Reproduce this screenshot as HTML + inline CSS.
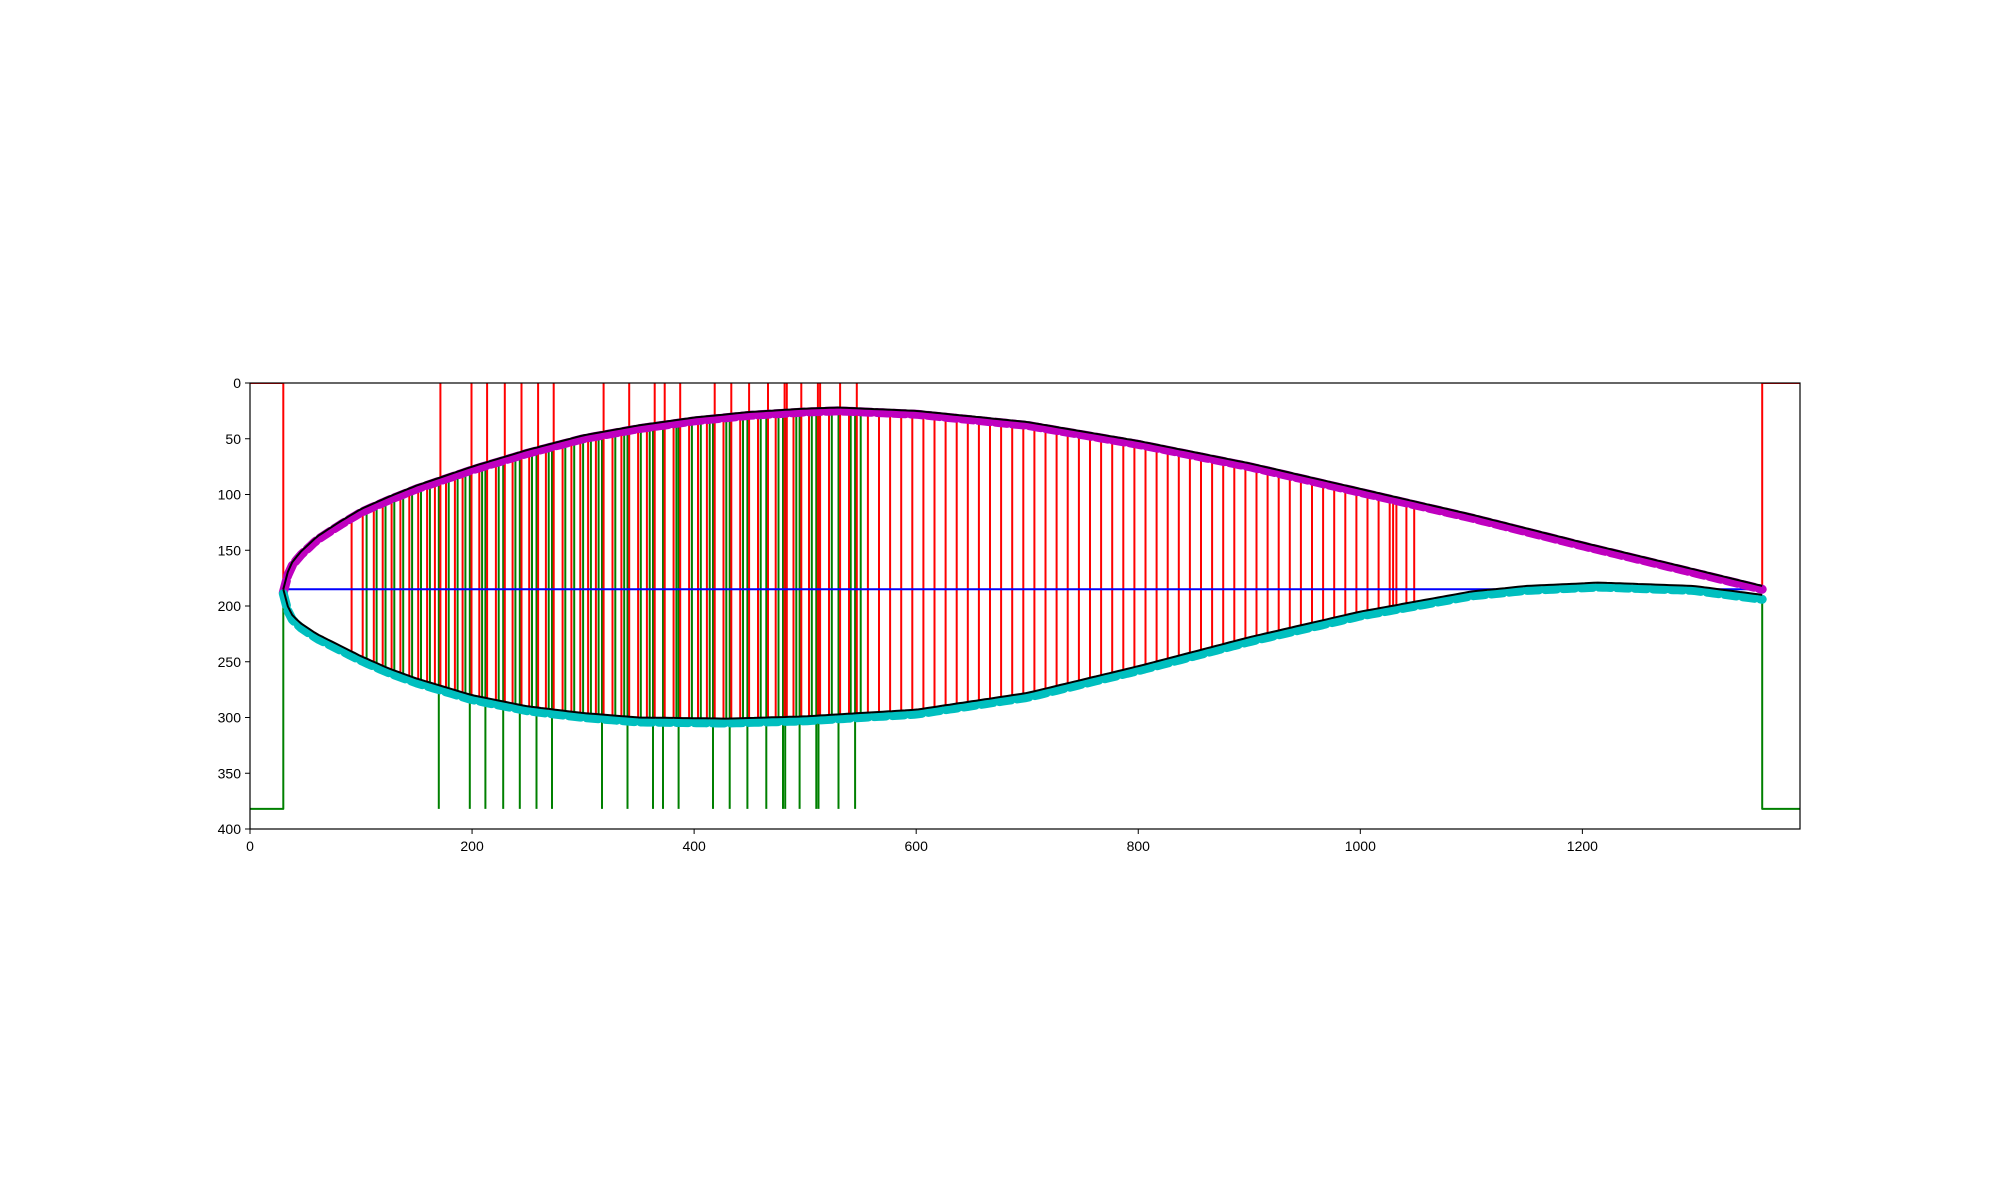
<!DOCTYPE html>
<html><head><meta charset="utf-8"><style>
html,body{margin:0;padding:0;background:#fff;}
svg{display:block;font-family:"Liberation Sans","DejaVu Sans",sans-serif;}
</style></head><body>
<svg id="chart" width="2000" height="1200"></svg>
<script>
const upperX=[30,33,37,45,60,80,100,125,150,200,250,300,350,400,450,500,530,600,700,800,900,1000,1100,1200,1300,1362];
const upperY=[185,172,162,152,138,125,113,102,92,75,60,47,38,31,26,23,22,25,35,52,72,95,118,143,167,182];
const lowerX=[30,33,37,45,60,80,100,125,150,200,250,300,350,430,500,600,700,800,900,1000,1100,1150,1215,1300,1362];
const lowerY=[185,198,207,215,225,235,245,256,265,280,290,296,300,301,299,293,278,254,228,205,187,182,179,182,190];
const camberY=185;
const spikeX=[170,198,212,228,243,258,272,317,340,363,372,386,417,432,448,465,480,482,495,510,512,530,545];
const redX=[90,100,110,118,126,134,142,150,158,165,175,183,190,205,220,235,250,265,280,288,296,303,310,325,333,348,356,380,394,402,410,425,440,456,472,488,502,520,538,555,565,575,585,595,605,615,625,635,645,655,665,675,685,695,705,715,725,735,745,755,765,775,785,795,805,815,825,835,845,855,865,875,885,895,905,915,925,935,945,955,965,975,985,995,1005,1015,1025,1028,1031,1040,1047];
const greenX=[105,114,122,130,138,146,154,162,179,187,194,209,224,239,254,269,284,292,300,307,314,329,337,352,360,384,398,406,414,429,444,460,476,492,506,524,541,550];
const xTicks=[0,200,400,600,800,1000,1200];
const yTicks=[0,50,100,150,200,250,300,350,400];

const L=250,R=1800,T=383,B=829,XMAX=1396,YMAX=400;
const sx=v=>L+v/XMAX*(R-L), sy=v=>T+v/YMAX*(B-T);
const NS='http://www.w3.org/2000/svg', svg=document.getElementById('chart');
function interp(xs,ys,x){for(let i=0;i<xs.length-1;i++){if(x>=xs[i]&&x<=xs[i+1]){const t=(x-xs[i])/(xs[i+1]-xs[i]);return ys[i]+t*(ys[i+1]-ys[i]);}}return ys[ys.length-1];}
function mk(tag,attrs,parent){const e=document.createElementNS(NS,tag);for(const k in attrs)e.setAttribute(k,attrs[k]);(parent||svg).appendChild(e);return e;}
function poly(pts,stroke,w,name,extra){const e=mk('polyline',Object.assign({points:pts.map(p=>sx(p[0]).toFixed(1)+','+sy(p[1]).toFixed(1)).join(' '),fill:'none',stroke:stroke,'stroke-width':w,'stroke-linejoin':'round'},extra||{}));


return e;}

const clip=mk('clipPath',{id:'c'});mk('rect',{x:L,y:T,width:R-L,height:B-T},clip);
const g=mk('g',{'clip-path':'url(#c)'});


function gp(pts,stroke,w,name,extra){const e=poly(pts,stroke,w,name,extra);g.appendChild(e);return e;}

const isSpike=x=>spikeX.includes(x);
// green lines
gp([[0,382],[30,382],[30,185]],'#008000',2,'green-left-edge');
const allGreen=[...greenX,...spikeX].sort((a,b)=>a-b);
allGreen.forEach(x=>{const bot=isSpike(x)?382:interp(lowerX,lowerY,x);const top=interp(upperX,upperY,x);gp([[x,bot],[x,top]],'#008000',2,'green-station-line');});
gp([[1362,190],[1362,382],[XMAX,382]],'#008000',2,'green-right-edge');
// red lines
gp([[0,0],[30,0],[30,185]],'#ff0000',2,'red-left-edge');
const allRed=[...redX,...spikeX].sort((a,b)=>a-b);
allRed.forEach(x=>{const top=isSpike(x)?0:interp(upperX,upperY,x);const bot=interp(lowerX,lowerY,x);gp([[x+1.5,top],[x+1.5,bot]],'#ff0000',2,'red-station-line');});
gp([[1362,182],[1362,0],[XMAX,0]],'#ff0000',2,'red-right-edge');
// blue camber
gp([[30,camberY],[1362,camberY]],'#0000ff',2,'camber-line');
// dashed thick surfaces
const dense=(xs,ys,off)=>{const p=[];for(let x=30;x<=1362;x+=4)p.push([x,interp(xs,ys,x)+off]);return p;};
gp(dense(upperX,upperY,3),'#bf00bf',9,'upper-surface-points',{'stroke-dasharray':'12,5','stroke-linecap':'round'});
gp(dense(lowerX,lowerY,4),'#00bfbf',9,'lower-surface-points',{'stroke-dasharray':'12,6','stroke-linecap':'round'});
// black curves
gp(dense(upperX,upperY,0),'#000',2,'upper-surface-curve');
gp(dense(lowerX,lowerY,0),'#000',2,'lower-surface-curve');

// axes frame
const fr=mk('rect',{x:L,y:T,width:R-L,height:B-T,fill:'none',stroke:'#000','stroke-width':1.2});


xTicks.forEach(v=>{const x=sx(v);const t=mk('line',{x1:x,x2:x,y1:B,y2:B+5,stroke:'#000','stroke-width':1});


const tx=mk('text',{x:x,y:B+22,'text-anchor':'middle','font-size':14});tx.textContent=v;

});
yTicks.forEach(v=>{const y=sy(v);const t=mk('line',{x1:L-5,x2:L,y1:y,y2:y,stroke:'#000','stroke-width':1});


const tx=mk('text',{x:L-9,y:y+5,'text-anchor':'end','font-size':14});tx.textContent=v;

});
</script>
</body></html>
